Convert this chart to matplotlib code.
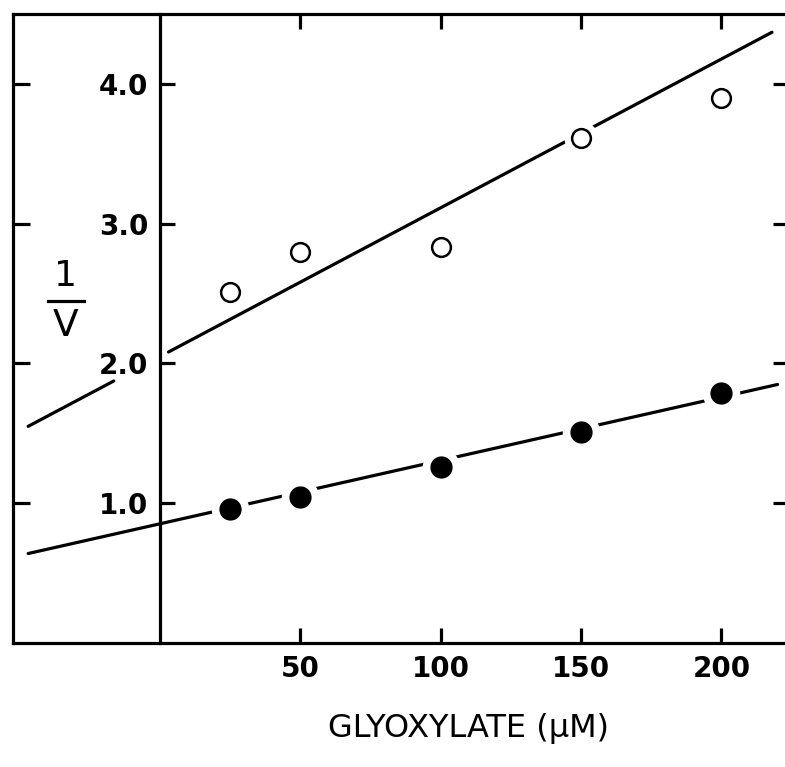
import numpy as np
import matplotlib
matplotlib.use("Agg")
import matplotlib.pyplot as plt
from matplotlib.lines import Line2D

# data
glyoxylate = [25, 50, 100, 150, 200]
inv_v_open = [2.51, 2.80, 2.83, 3.61, 3.90]
inv_v_filled = [0.96, 1.045, 1.26, 1.51, 1.785]

# drawn reference lines: slope, intercept, and the x stretches they cover
open_line = (0.01064, 2.05)
open_segments = [(-47, -16.5), (3, 218)]
filled_line = (0.00453, 0.853)
filled_segments = [(-47, 220)]

x_ticks = [50, 100, 150, 200]
y_ticks = [1.0, 2.0, 3.0, 4.0]
y_ticklabels = ["1.0", "2.0", "3.0", "4.0"]

plt.rcParams['font.family'] = ['DejaVu Sans']
lw = 2.3

fig = plt.figure(figsize=(7.85, 7.67), dpi=100)
ax = fig.add_axes([13/785, 1 - 643/767, 775/785, 629/767])
ax.set_xlim(-52.4, 223.7)
ax.set_ylim(0, 4.5)

# fitted lines
for slope, icpt, segs in [(open_line[0], open_line[1], open_segments),
                          (filled_line[0], filled_line[1], filled_segments)]:
    for x0, x1 in segs:
        xs = np.array([x0, x1])
        ax.plot(xs, icpt + slope * xs, color='black', lw=lw, zorder=2,
                solid_capstyle='round')

# white halos make the gaps in the line around the symbols
ax.plot(glyoxylate, inv_v_open, 'o', ms=24.5, color='white', mew=0, zorder=3)
ax.plot(glyoxylate, inv_v_filled, 'o', ms=27, color='white', mew=0, zorder=3)
ax.plot(glyoxylate, inv_v_open, 'o', ms=13.5, mfc='white', mec='black',
        mew=1.8, zorder=4)
ax.plot(glyoxylate, inv_v_filled, 'o', ms=15, color='black', zorder=4)

# axes styling
for s in ax.spines.values():
    s.set_linewidth(lw)
ax.spines['left'].set_position(('data', 0))
ax.set_xticks(x_ticks)
ax.set_xticklabels([str(v) for v in x_ticks])
ax.set_yticks(y_ticks)
ax.set_yticklabels(y_ticklabels)
ax.tick_params(axis='both', direction='in', length=11, width=lw,
               labelsize=20, pad=8.6)
ax.tick_params(axis='x', top=True)
ax.tick_params(axis='y', right=True)
for lab in ax.get_xticklabels() + ax.get_yticklabels():
    lab.set_fontweight('bold')

# outer left frame with its own inward ticks
outer = ax.secondary_yaxis(0.0)
outer.set_yticks(y_ticks)
outer.tick_params(direction='in', length=12, width=lw, labelleft=False)
outer.spines['left'].set_linewidth(lw)

# axis titles
fig.text(468/785, 1 - 729/767, "GLYOXYLATE (\u03bcM)", fontsize=23,
         ha='center', va='center')
fig.text(66/785, 1 - 276/767, "1", fontsize=26, ha='center', va='center')
fig.text(66/785, 1 - 326/767, "V", fontsize=27, ha='center', va='center')
fig.add_artist(Line2D([48/785, 84/785], [1 - 301/767, 1 - 301/767],
                      color='black', lw=lw))

fig.savefig("out.png", dpi=100)
